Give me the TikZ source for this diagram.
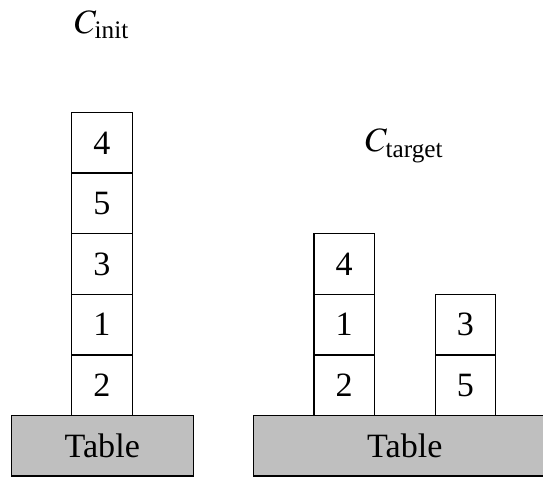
\documentclass[tikz,border=0pt]{standalone}
\usepackage{amsmath}
\usepackage{mathptmx}
\usepackage[no-math]{fontspec}
\setmainfont{Liberation Serif}
\usepackage{tikz}
\usetikzlibrary{positioning}

\begin{document}
\begin{tikzpicture}[block/.style={draw, fill=white, line width=0.6pt, minimum size=1cm, inner sep=0, font=\fontsize{16}{19}\selectfont},
                    tabletop/.style={draw, fill=black!25, line width=0.6pt, minimum height=1cm, inner sep=0, font=\fontsize{16}{19}\selectfont}]
        \useasboundingbox (0,0) rectangle (8.96,7.888);
        \clip (0,0) rectangle (8.96,7.888);

        % initial configuration
        \node [tabletop, minimum width=3cm] (tinit) at (1.687, 0.532) {Table};
        \foreach \b [count=\i] in {2, 1, 3, 5, 4} {
          \node [block] (init\b) at (1.683, 0.532 + \i) {\b};
        }
        \node [anchor=base, font=\fontsize{16}{19}\selectfont] (labelinit) at (1.683, 7.33) {$C_{\text{init}}$};

        % target configuration
        \node [tabletop, minimum width=5cm] (ttarget) at (6.68, 0.532) {Table};
        \foreach \b [count=\i] in {2, 1, 4} {
          \node [block] (left\b) at (5.68, 0.532 + \i) {\b};
        }
        \foreach \b [count=\i] in {5, 3} {
          \node [block] (right\b) at (7.68, 0.532 + \i) {\b};
        }
        \node [anchor=base, font=\fontsize{16}{19}\selectfont] (labeltarget) at (6.675, 5.38) {$C_{\text{target}}$};
      \end{tikzpicture}
\end{document}
